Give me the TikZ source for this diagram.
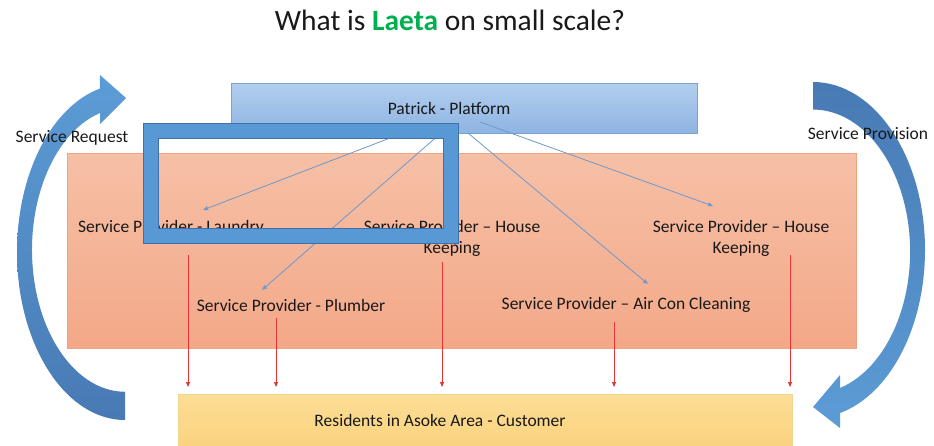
\documentclass[tikz,border=0pt]{standalone}
\usepackage{fontspec}
\setmainfont{Carlito}
\usetikzlibrary{arrows.meta}
\definecolor{TitleGreen}{RGB}{0,176,80}
\definecolor{PlatTop}{RGB}{178,206,238}
\definecolor{PlatBot}{RGB}{142,180,226}
\definecolor{PlatLine}{RGB}{120,162,212}
\definecolor{ProvTop}{RGB}{246,192,166}
\definecolor{ProvBot}{RGB}{243,168,136}
\definecolor{ProvLine}{RGB}{240,165,128}
\definecolor{ResTop}{RGB}{252,222,150}
\definecolor{ResBot}{RGB}{250,210,125}
\definecolor{ResLine}{RGB}{242,212,140}
\definecolor{FrameBlue}{RGB}{88,152,212}
\definecolor{FrameLine}{RGB}{62,112,170}
\definecolor{CurveLight}{RGB}{92,156,214}
\definecolor{CurveDark}{RGB}{72,122,180}
\definecolor{LinkBlue}{RGB}{108,152,206}
\definecolor{ServeRed}{RGB}{232,52,52}
\definecolor{TextDark}{RGB}{25,25,25}
\tikzset{
  bigbox/.style={rectangle,inner sep=0pt,outer sep=0pt,line width=0.8pt},
  prov/.style={font=\fontsize{17.5}{21}\selectfont,align=center,inner sep=1pt,text=TextDark},
  side/.style={font=\fontsize{17.5}{21}\selectfont,inner sep=1pt,text=TextDark},
  linkpath/.style={-{Triangle[length=5pt,width=4pt]},draw=LinkBlue,line width=0.8pt},
  servepath/.style={-{Triangle[length=5pt,width=4pt]},draw=ServeRed,line width=0.8pt,shorten >=7pt}
}

\begin{document}
\begin{tikzpicture}[x=1pt,y=-1pt]
\useasboundingbox (0,0) rectangle (934,445);

\node[bigbox,draw=ProvLine,top color=ProvTop,bottom color=ProvBot,minimum width=789pt,minimum height=195pt] (provbox) at (461.5,250.5) {};
\node[bigbox,draw=PlatLine,top color=PlatTop,bottom color=PlatBot,minimum width=466pt,minimum height=50pt] (plat) at (464,108) {};
\node[bigbox,draw=ResLine,top color=ResTop,bottom color=ResBot,minimum width=614pt,minimum height=54pt] (res) at (485,421) {};

% curved arrows
\shade[top color=CurveLight,bottom color=CurveDark] (125,420) arc[start angle=90,end angle=256.6,x radius=108,y radius=168] -- (100,75) -- (126,98) -- (100,124) -- (100,113) arc[start angle=254.4,end angle=90,x radius=93,y radius=142] -- cycle;
\shade[top color=CurveDark,bottom color=CurveLight] (813,82) arc[start angle=-90,end angle=76,x radius=112,y radius=168] -- (840,428) -- (813,407) -- (840,375) -- (840,388) arc[start angle=73.9,end angle=-90,x radius=97,y radius=142] -- cycle;

\node[text=TextDark] (title) at (450,20) {\fontsize{29.5}{32}\selectfont What is \textcolor{TitleGreen}{\textbf{Laeta}} on small scale?};
\node[side] (req) at (72,138) {Service Request};
\node[side] (provis) at (868,134) {Service Provision};

\node[prov] (patrick) at (449,108) {Patrick - Platform};
\node[prov] (lau) at (171,228) {Service Provider - Laundry};
\node[prov] (hkmid) at (452,238) {Service Provider -- House\\Keeping};
\node[prov] (hkright) at (741,238) {Service Provider -- House\\Keeping};
\node[prov] (plumb) at (291,305) {Service Provider - Plumber};
\node[prov] (aircon) at (626,305) {Service Provider -- Air Con Cleaning};
\node[prov] (resident) at (440,420) {Residents in Asoke Area - Customer};

\coordinate (t1) at (203,210);
\coordinate (t2) at (262,290);
\coordinate (t3) at (648,284);
\coordinate (t4) at (713,206);
\draw[linkpath] ([xshift=-61pt]plat.south) -- (t1);
\draw[linkpath] ([xshift=-23pt]plat.south) -- (t2);
\draw[linkpath] ([xshift=4pt]plat.south) -- (t3);
\draw[linkpath] ([xshift=16pt,yshift=11pt]plat.south) -- (t4);

\coordinate (r1) at (188,255);
\coordinate (r2) at (276,318);
\coordinate (r3) at (442,262);
\coordinate (r4) at (614,322);
\coordinate (r5) at (790,255);
\foreach \r in {r1,r2,r3,r4,r5}
  \draw[servepath] (\r) -- (\r |- res.north);

% highlight frame
\fill[FrameBlue,even odd rule,draw=FrameLine,line width=0.8pt] (143,123) rectangle (458,243) (158,138) rectangle (443,228);
\end{tikzpicture}
\end{document}
